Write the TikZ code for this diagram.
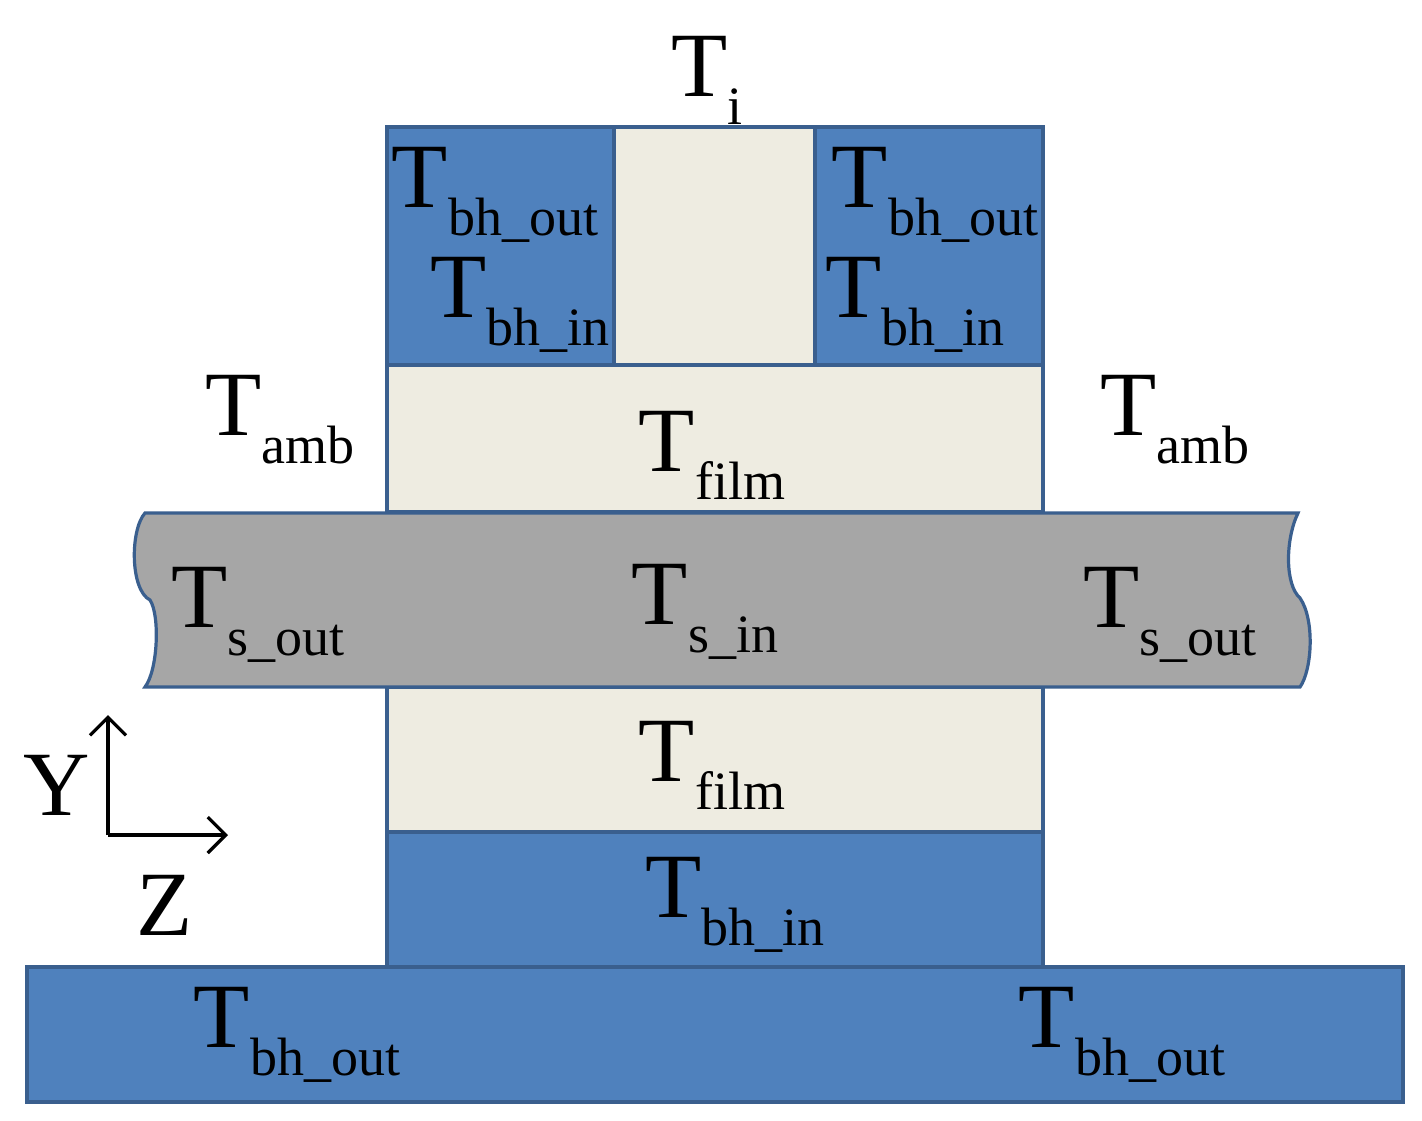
\documentclass[tikz,border=0pt]{standalone}
\usetikzlibrary{arrows.meta}
\usepackage{fontspec}
\setmainfont{Liberation Serif}
\definecolor{bb}{HTML}{4F81BD}
\definecolor{bd}{HTML}{3A5F8E}
\definecolor{bg}{HTML}{EEECE1}
\definecolor{gr}{HTML}{A6A6A6}
\newcommand{\TT}[1]{{\fontsize{46}{50}\selectfont T}\raisebox{-14pt}{\fontsize{27}{30}\selectfont #1}}
\begin{document}
\begin{tikzpicture}[x=0.5pt,y=-0.5pt,
  box/.style={draw=bd,line width=1.6pt},
  lab/.style={inner sep=0pt}]
\useasboundingbox (0,0) rectangle (1422,1120);
\fill[white] (0,0) rectangle (1422,1120);
\draw[box,fill=bb] (27,967) rectangle (1403,1102);
\draw[box,fill=bb] (387,832) rectangle (1043,967);
\draw[box,fill=bg] (387,687) rectangle (1043,832);
\draw[box,fill=bg] (387,365) rectangle (1043,512);
\draw[box,fill=bb] (387,127) rectangle (614,365);
\draw[box,fill=bg] (614,127) rectangle (815,365);
\draw[box,fill=bb] (815,127) rectangle (1043,365);
\draw[box,fill=gr] (145,513) -- (1298,513)
  .. controls (1285,540) and (1285,585) .. (1300,598)
  .. controls (1315,620) and (1312,670) .. (1300,687)
  -- (145,687)
  .. controls (158,670) and (160,615) .. (150,600)
  .. controls (130,590) and (130,530) .. (145,513) -- cycle;
\coordinate (o) at (108,835);
\coordinate (ay) at (108,715);
\coordinate (az) at (228,835);
\draw[line width=1.6pt,-{Straight Barb[length=9pt]}] (o) -- (ay);
\draw[line width=1.6pt,-{Straight Barb[length=9pt]}] (o) -- (az);
\node[lab] (Y) at (57,785) {\fontsize{46}{50}\selectfont Y};
\node[lab] (Z) at (165,905) {\fontsize{46}{50}\selectfont Z};
\node[lab] (ti) at (707,80) {\TT{i}};
\node[lab] (a1) at (495,195) {\TT{bh\_out}};
\node[lab] (a2) at (520,305) {\TT{bh\_in}};
\node[lab] (a3) at (935,195) {\TT{bh\_out}};
\node[lab] (a4) at (915,305) {\TT{bh\_in}};
\node[lab] (am1) at (280,420) {\TT{amb}};
\node[lab] (am2) at (1175,420) {\TT{amb}};
\node[lab] (f1) at (712,455) {\TT{film}};
\node[lab] (s1) at (258,615) {\TT{s\_out}};
\node[lab] (s2) at (705,612) {\TT{s\_in}};
\node[lab] (s3) at (1170,615) {\TT{s\_out}};
\node[lab] (f2) at (712,765) {\TT{film}};
\node[lab] (b1) at (735,905) {\TT{bh\_in}};
\node[lab] (b2) at (297,1035) {\TT{bh\_out}};
\node[lab] (b3) at (1122,1035) {\TT{bh\_out}};
\end{tikzpicture}
\end{document}
